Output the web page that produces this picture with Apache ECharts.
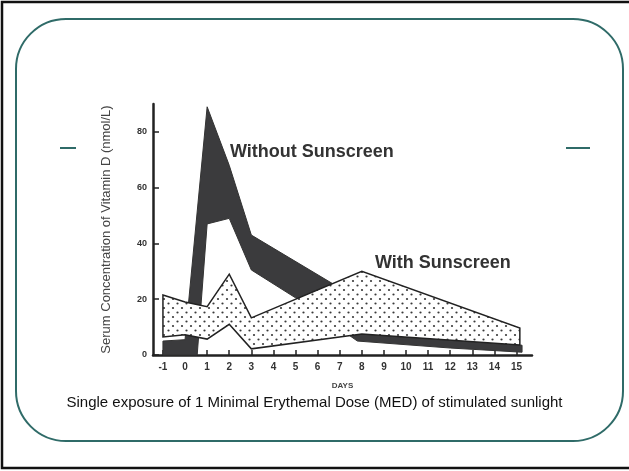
<!DOCTYPE html>
<html>
<head>
<meta charset="utf-8">
<script src="https://cdn.jsdelivr.net/npm/echarts@6/dist/echarts.min.js"></script>
<style>
  html, body { margin: 0; padding: 0; background: #fff; }
  #chart { width: 629px; height: 471px; }
</style>
</head>
<body>
<div id="chart"></div>
<script>
// days on the x axis
const dayTicks = [-1, 0, 1, 2, 3, 4, 5, 6, 7, 8, 9, 10, 11, 12, 13, 14, 15]
const concTicks = [0, 20, 40, 60, 80]

// Without sunscreen band (serum vitamin D, nmol/L)
const noSunUpperDays = [-1, 0, 1, 2, 3, 6.8, 8, 12, 15.25]
const noSunUpper = [5, 5.5, 89, 68, 43, 25, 7.5, 5.5, 3.5]
const noSunLowerDays = [-1, 0.55, 1, 2, 3, 5, 7.8, 12, 15.25]
const noSunLower = [0, 0, 47, 49, 30.5, 20.5, 5, 2.5, 1]

// With sunscreen band
const sunUpperDays = [-1, 0, 1, 2, 3, 8, 15.15]
const sunUpper = [21.5, 19, 17.3, 29, 13.3, 30, 9.7]
const sunLowerDays = [-1, 0, 1, 2, 3, 8, 15.15]
const sunLower = [6.5, 7.3, 5.7, 11, 2.2, 7.5, 3.6]

function ring(upDays, up, lowDays, low) {
  const pts = upDays.map((d, i) => [d, up[i]])
  for (let i = lowDays.length - 1; i >= 0; i--) pts.push([lowDays[i], low[i]])
  return pts
}

// dotted fill like the scanned figure
const dots = document.createElement('canvas')
dots.width = 9
dots.height = 9
const ctx = dots.getContext('2d')
ctx.fillStyle = '#fff'
ctx.fillRect(0, 0, 9, 9)
ctx.fillStyle = '#3a3a3a'
ctx.beginPath(); ctx.arc(2, 2, 1.1, 0, Math.PI * 2); ctx.fill()
ctx.beginPath(); ctx.arc(6.5, 6.5, 1.1, 0, Math.PI * 2); ctx.fill()

function bandSeries(name, pts, style) {
  return {
    name: name,
    type: 'custom',
    coordinateSystem: 'cartesian2d',
    clip: false,
    data: pts,
    renderItem: function(params, api) {
      if (params.dataIndex !== 0) return
      return {
        type: 'polygon',
        shape: { points: pts.map(p => api.coord(p)) },
        style: style
      }
    }
  }
}

const chart = echarts.init(document.getElementById('chart'))
const font = '"Liberation Sans", Arial, sans-serif'

chart.setOption({
  animation: false,
  backgroundColor: '#fff',
  grid: { left: 153, right: 97, top: 104, bottom: 116 },
  xAxis: {
    type: 'value',
    min: -1.45,
    max: 15.7,
    name: 'DAYS',
    nameLocation: 'middle',
    nameGap: 27,
    nameTextStyle: { fontFamily: font, fontWeight: 'bold', fontSize: 8, color: '#444' },
    splitLine: { show: false },
    axisLine: { onZero: false, lineStyle: { color: '#222', width: 2.5 } },
    axisTick: { inside: true, length: 5, customValues: dayTicks, lineStyle: { color: '#222', width: 1.5 } },
    axisLabel: { customValues: dayTicks, margin: 7, fontFamily: font, fontWeight: 'bold', fontSize: 10, color: '#333' }
  },
  yAxis: {
    type: 'value',
    min: 0,
    max: 90,
    name: 'Serum Concentration of Vitamin D (nmol/L)',
    nameLocation: 'middle',
    nameGap: 40,
    nameTextStyle: { fontFamily: font, fontSize: 13, color: '#444' },
    splitLine: { show: false },
    axisLine: { show: true, onZero: false, lineStyle: { color: '#222', width: 2.5 } },
    axisTick: { show: true, inside: true, length: 6, customValues: concTicks, lineStyle: { color: '#222', width: 1.5 } },
    axisLabel: { customValues: concTicks, margin: 6, fontFamily: font, fontWeight: 'bold', fontSize: 9, color: '#333' }
  },
  series: [
    bandSeries('Without Sunscreen', ring(noSunUpperDays, noSunUpper, noSunLowerDays, noSunLower),
      { fill: '#3b3b3d', stroke: '#333', lineWidth: 1 }),
    bandSeries('With Sunscreen', ring(sunUpperDays, sunUpper, sunLowerDays, sunLower),
      { fill: { image: dots, repeat: 'repeat' }, stroke: '#222', lineWidth: 1.5 })
  ],
  graphic: [
    { type: 'rect', z: -1, shape: { x: 2, y: 2, width: 640, height: 466 },
      style: { fill: 'none', stroke: '#111', lineWidth: 2.5 } },
    { type: 'rect', z: -1, shape: { x: 16, y: 19, width: 607, height: 422, r: 50 },
      style: { fill: 'none', stroke: '#2f6b68', lineWidth: 2 } },
    { type: 'line', shape: { x1: 60, y1: 148, x2: 76, y2: 148 }, style: { stroke: '#2f6b68', lineWidth: 2 } },
    { type: 'line', shape: { x1: 566, y1: 148, x2: 590, y2: 148 }, style: { stroke: '#2f6b68', lineWidth: 2 } },
    { type: 'text', left: 230, top: 143,
      style: { text: 'Without Sunscreen', font: 'bold 18px ' + font, fill: '#333' } },
    { type: 'text', left: 375, top: 254,
      style: { text: 'With Sunscreen', font: 'bold 18px ' + font, fill: '#333' } },
    { type: 'text', left: 'center', top: 395,
      style: { text: 'Single exposure of 1 Minimal Erythemal Dose (MED) of stimulated sunlight',
        font: '15px ' + font, fill: '#111' } }
  ]
})
</script>
</body>
</html>
